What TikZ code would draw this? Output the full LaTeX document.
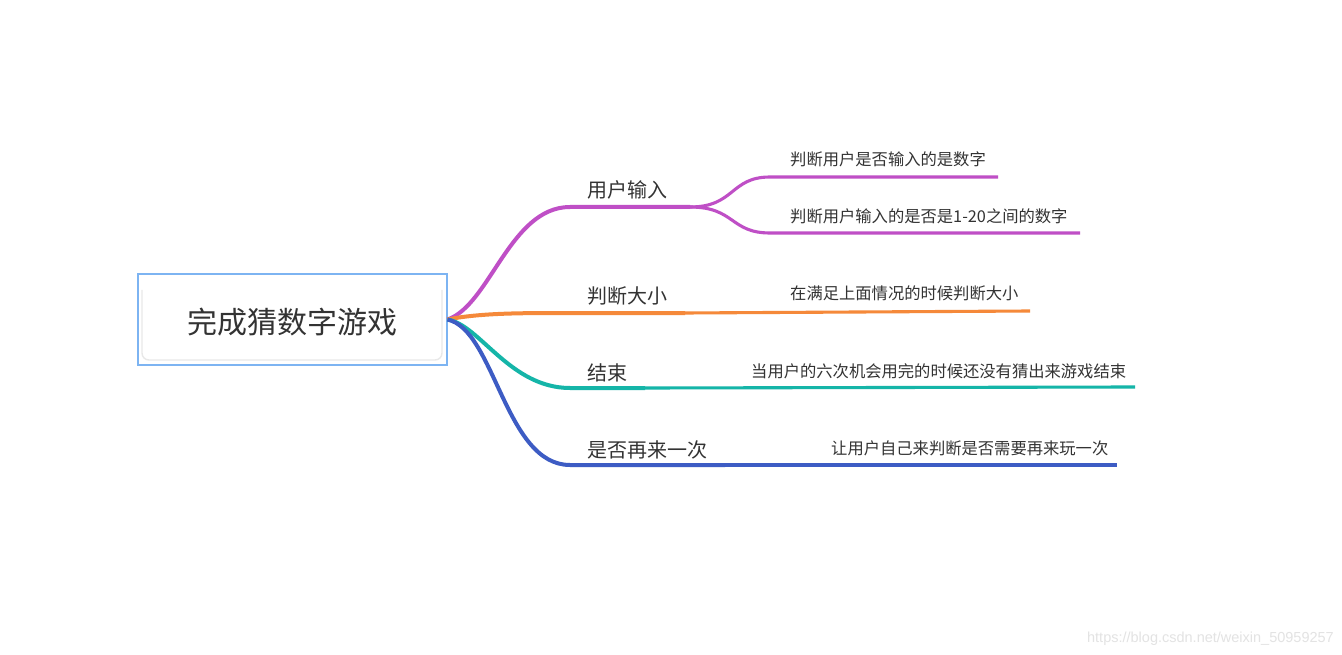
\documentclass[tikz,border=0pt]{standalone}
\usepackage{fontspec}
\newfontfamily\cjk{Noto Sans CJK SC}
\newfontfamily\wmfont{Liberation Sans}
\definecolor{boxblue}{HTML}{7DB4F2}
\definecolor{txtgray}{HTML}{333333}
\definecolor{cpurple}{HTML}{BF4FC6}
\definecolor{corange}{HTML}{F5893A}
\definecolor{cteal}{HTML}{15B5A8}
\definecolor{cblue}{HTML}{3D5CC4}
\begin{document}
\begin{tikzpicture}[x=1pt, y=-1pt,
  branch/.style={line width=4pt},
  leaf/.style={line width=3.1pt},
  topic/.style={inner sep=0pt, anchor=base west, text=txtgray, font=\cjk\fontsize{20}{24}\selectfont},
  note/.style={inner sep=0pt, anchor=base west, text=txtgray, font=\cjk\fontsize{16.3}{19}\selectfont}]
	\useasboundingbox[fill=white] (0,0) rectangle (1342,655);
	
	% central topic
	\node[draw=boxblue, line width=2pt, minimum width=309pt, minimum height=90pt, inner sep=0pt] (root) at (292,319.5) {};
	\draw[gray!18, line width=1.4pt, rounded corners=7pt] (142,290) -- (142,360) -- (442,360) -- (442,290);
	\node[inner sep=0pt, anchor=base west, text=txtgray, font=\cjk\fontsize{30}{36}\selectfont] (title) at (187,333) {完成猜数字游戏};
	
	% branch points
	\coordinate (u1) at (570,207); \coordinate (u2) at (690,207);
	\coordinate (u3) at (770,177); \coordinate (u4) at (998,177);
	\coordinate (u5) at (770,233); \coordinate (u6) at (1080,233);
	\coordinate (o1) at (570,313); \coordinate (o2) at (685,313); \coordinate (o3) at (1030,311);
	\coordinate (t1) at (570,388); \coordinate (t2) at (645,388); \coordinate (t3) at (1135,387);
	\coordinate (b1) at (570,465); \coordinate (b2) at (725,465); \coordinate (b3) at (1117,465);
	
	\draw[branch, cpurple] (root.east) .. controls (490,305) and (510,207) .. (u1) -- (u2);
	\draw[leaf, cpurple] (u2) .. controls (735,207) and (730,177) .. (u3) -- (u4);
	\draw[leaf, cpurple] (u2) .. controls (735,207) and (730,233) .. (u5) -- (u6);
	\draw[branch, corange] (root.east) .. controls (480,313) and (520,313) .. (o1) -- (o2);
	\draw[leaf, corange] (o2) -- (o3);
	\draw[branch, cteal] (root.east) .. controls (480,325) and (510,388) .. (t1) -- (t2);
	\draw[leaf, cteal] (t2) -- (t3);
	\draw[branch, cblue] (root.east) .. controls (495,330) and (505,465) .. (b1) -- (b2);
	\draw[leaf, cblue] (b2) -- (b3);
	
	% labels
	\node[topic] (input) at (587,198) {用户输入};
	\node[topic] (compare) at (587,304) {判断大小};
	\node[topic] (finish) at (587,380) {结束};
	\node[topic] (again) at (587,457) {是否再来一次};
	\node[note] (n1) at (790,166) {判断用户是否输入的是数字};
	\node[note] (n2) at (790,223) {判断用户输入的是否是1-20之间的数字};
	\node[note] (n3) at (790,300) {在满足上面情况的时候判断大小};
	\node[note] (n4) at (751,377) {当用户的六次机会用完的时候还没有猜出来游戏结束};
	\node[note] (n5) at (831,454) {让用户自己来判断是否需要再来玩一次};
	
	\node[inner sep=0pt, anchor=base east, text=gray!22, font=\wmfont\fontsize{14.5}{17}\selectfont] (mark) at (1334,642) {https://blog.csdn.net/weixin\_50959257};
\end{tikzpicture}
\end{document}
